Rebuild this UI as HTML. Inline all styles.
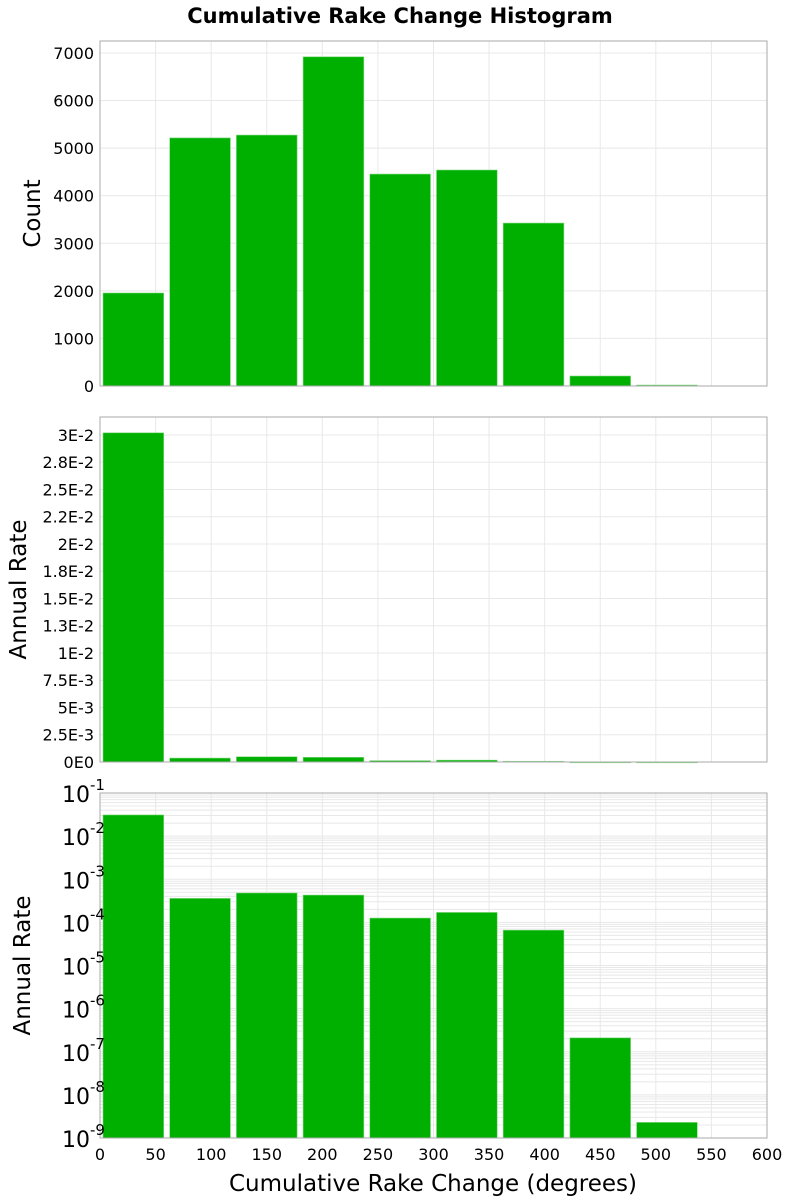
<!DOCTYPE html>
<html><head><meta charset="utf-8"><style>
body{margin:0;background:#fff;width:800px;height:1200px;overflow:hidden;font-family:"DejaVu Sans","Liberation Sans",sans-serif}
svg text{font-family:"DejaVu Sans","Liberation Sans",sans-serif}
</style></head><body>
<svg id="chart" width="800" height="1200" xmlns="http://www.w3.org/2000/svg">
<text x="400" y="23" text-anchor="middle" font-size="21" font-weight="bold">Cumulative Rake Change Histogram</text>
</svg>
<script>
const binStarts=[0,60,120,180,240,300,360,420,480,540];
const binWidth=60;
const countValues=[1955,5215,5275,6920,4455,4540,3425,210,20,0];
const rateValues=[0.0302,0.00036,0.00048,0.00043,0.000126,0.00017,0.000066,2.1e-7,2.3e-9,0];
const logRateValues=[0.031,0.00036,0.00048,0.00043,0.000126,0.00017,0.000066,2.1e-7,2.3e-9,0];
const countTicks=[0,1000,2000,3000,4000,5000,6000,7000];
const rateTicks=[0,0.0025,0.005,0.0075,0.01,0.0125,0.015,0.0175,0.02,0.0225,0.025,0.0275,0.03];
const rateTickLabels=["0E0","2.5E-3","5E-3","7.5E-3","1E-2","1.3E-2","1.5E-2","1.8E-2","2E-2","2.2E-2","2.5E-2","2.8E-2","3E-2"];
const logExps=[-9,-8,-7,-6,-5,-4,-3,-2,-1];
const xTicks=[0,50,100,150,200,250,300,350,400,450,500,550,600];

const NS="http://www.w3.org/2000/svg";
const svg=document.getElementById('chart');
const L=100,R=767;
const xs=v=>L+(v/600)*(R-L);
function mk(tag,attrs,parent){const e=document.createElementNS(NS,tag);for(const k in attrs)e.setAttribute(k,attrs[k]);(parent||svg).appendChild(e);return e;}

function panel(name,top,bottom,yfun,values,ticks,labels,isLog,ytitle,ytitleX){
  const g=mk('g',{});
  
  
  // grid
  xTicks.forEach(t=>{const l=mk('line',{x1:xs(t),x2:xs(t),y1:top,y2:bottom,stroke:'#e8e8e8','stroke-width':1},g);
    
    });
  if(isLog){
    for(let e=-9;e<-1+1;e++){for(let m=1;m<10;m++){const v=m*Math.pow(10,e);if(v>0.1+1e-12)break;const y=yfun(v);
      const l=mk('line',{x1:L,x2:R,y1:y,y2:y,stroke:'#e8e8e8','stroke-width':1},g);
      
      }}
  } else {
    ticks.forEach(t=>{const y=yfun(t);const l=mk('line',{x1:L,x2:R,y1:y,y2:y,stroke:'#e8e8e8','stroke-width':1},g);
      
      });
  }
  // bars
  values.forEach((v,i)=>{if(v<=0)return;const x0=xs(binStarts[i])+3,x1=xs(binStarts[i]+binWidth)-3;
    const y=Math.max(top,yfun(v));
    const r=mk('rect',{x:x0,y:y,width:x1-x0,height:Math.max(0.8,bottom-y),fill:'#00b000',stroke:'#7fd87f','stroke-width':0.6},g);
    
    });
  // frame
  const f=mk('rect',{x:L,y:top,width:R-L,height:bottom-top,fill:'none',stroke:'#aaa','stroke-width':1},g);
  
  
  // y labels
  if(isLog){
    logExps.forEach(e=>{const y=yfun(Math.pow(10,e));
      const t=mk('text',{x:62,y:y+9,'font-size':22,'text-anchor':'start'},g);
      t.textContent='10';
      const s=mk('tspan',{dy:-12,'font-size':15},t);s.textContent=String(e);
      
      });
  } else {
    ticks.forEach((tk,i)=>{const y=yfun(tk);
      const t=mk('text',{x:94,y:y+6,'font-size':16,'text-anchor':'end'},g);
      t.textContent=labels[i];
      
      });
  }
  const cy=(top+bottom)/2;
  const yt=mk('text',{x:ytitleX,y:cy,'font-size':23,'text-anchor':'middle',transform:`rotate(-90 ${ytitleX} ${cy})`},g);
  yt.textContent=ytitle;
  
  
}

// panel 1
const t1=41,b1=386;const y1=v=>b1-(v/7252)*(b1-t1);
panel('count',t1,b1,y1,countValues,countTicks,countTicks.map(String),false,'Count',40);
// panel 2
const t2=417,b2=762;const y2=v=>b2-(v/0.03165)*(b2-t2);
panel('annual-rate-linear',t2,b2,y2,rateValues,rateTicks,rateTickLabels,false,'Annual Rate',26);
// panel 3
const t3=793,b3=1138;const y3=v=>b3-((Math.log10(v)+9)/8)*(b3-t3);
panel('annual-rate-log',t3,b3,y3,logRateValues,null,null,true,'Annual Rate',30);

xTicks.forEach(t=>{const e=mk('text',{x:xs(t),y:1160,'font-size':16,'text-anchor':'middle'});
  e.textContent=String(t);
  
  });
const xt=mk('text',{x:433,y:1191,'font-size':23,'text-anchor':'middle'});
xt.textContent='Cumulative Rake Change (degrees)';


</script>
</body></html>
